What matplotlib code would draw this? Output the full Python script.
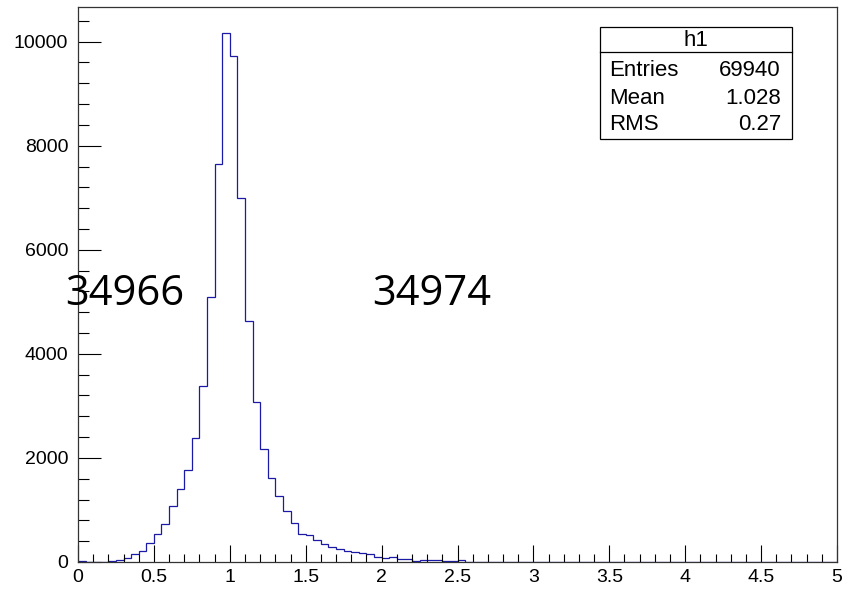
import numpy as np
import matplotlib
matplotlib.use('Agg')
import matplotlib.pyplot as plt
from matplotlib.ticker import MultipleLocator

# histogram h1: 100 bins from 0 to 5, contents
bin_lo = 0.0
bin_hi = 5.0
counts = [
    12, 3, 6, 9, 13, 38, 83, 147, 211, 365,
    538, 730, 1069, 1400, 1766, 2381, 3379, 5100, 7650, 10158,
    9732, 6997, 4639, 3072, 2163, 1606, 1261, 979, 749, 544,
    518, 429, 346, 288, 256, 211, 186, 166, 147, 105,
    85, 100, 51, 51, 13, 32, 32, 32, 13, 13,
    32, 6, 7, 5, 6, 6, 5, 7, 6, 5,
    6, 6, 5, 6, 7, 5, 6, 6, 5, 6,
    6, 0, 5, 5, 0, 0, 0, 4, 0, 4,
    4, 0, 0, 4, 0, 0, 0, 0, 0, 0,
    0, 0, 0, 0, 0, 0, 0, 0, 0, 0,
]
stats_labels = ['Entries', 'Mean', 'RMS']
stats_values = ['69940', '1.028', '0.27']
hist_name = 'h1'
overlay_texts = ['34966', '34974']

W, H = 852, 591
fig = plt.figure(figsize=(W / 100, H / 100), dpi=100)
ax = fig.add_axes([78 / W, 1 - 562 / H, (837 - 78) / W, (562 - 7) / H])

edges = np.linspace(bin_lo, bin_hi, len(counts) + 1)
ax.stairs(counts, edges, color='#1a1aa6', linewidth=0.9, baseline=0)

ax.set_xlim(bin_lo, bin_hi)
ax.set_ylim(0, 1.05 * max(counts))

ax.xaxis.set_major_locator(MultipleLocator(0.5))
ax.xaxis.set_minor_locator(MultipleLocator(0.1))
ax.yaxis.set_major_locator(MultipleLocator(2000))
ax.yaxis.set_minor_locator(MultipleLocator(400))
ax.xaxis.set_major_formatter(plt.FuncFormatter(lambda v, p: f'{v:g}'))

ax.tick_params(axis='x', which='major', direction='in', length=12, width=0.8, pad=5)
ax.tick_params(axis='x', which='minor', direction='in', length=6, width=0.8)
ax.tick_params(axis='y', which='major', direction='in', length=16.5, width=0.8, pad=7)
ax.tick_params(axis='y', which='minor', direction='in', length=8.2, width=0.8)
for lab in ax.get_xticklabels() + ax.get_yticklabels():
    lab.set_fontfamily('Liberation Sans')
    lab.set_fontsize(14)
for sp in ax.spines.values():
    sp.set_linewidth(0.9)
    sp.set_color('#333333')

# stats box
bx0, bx1, by0, by1 = 600, 792, 27, 139
fig.patches.append(plt.Rectangle((bx0 / W, 1 - by1 / H), (bx1 - bx0) / W, (by1 - by0) / H,
                                 transform=fig.transFigure, facecolor='white',
                                 edgecolor='black', linewidth=0.9, zorder=5))
fig.lines.append(plt.Line2D([bx0 / W, bx1 / W], [1 - 52 / H, 1 - 52 / H],
                            transform=fig.transFigure, color='black', linewidth=0.9, zorder=6))
fig.text((bx0 + bx1) / 2 / W, 1 - 40 / H, hist_name, ha='center', va='center',
         fontsize=16, family='Liberation Sans', zorder=7)
for i, (lab, val) in enumerate(zip(stats_labels, stats_values)):
    yy = 1 - (71 + 27 * i) / H
    fig.text(609 / W, yy, lab, ha='left', va='center', fontsize=16,
             family='Liberation Sans', zorder=7)
    fig.text(781 / W, yy, val, ha='right', va='center', fontsize=16,
             family='Liberation Sans', zorder=7)

# big overlay numbers
fig.text(65 / W, 1 - 305 / H, overlay_texts[0], ha='left', va='baseline',
         fontsize=30, family='Open Sans', color='black', zorder=8)
fig.text(372 / W, 1 - 305 / H, overlay_texts[1], ha='left', va='baseline',
         fontsize=30, family='Open Sans', color='black', zorder=8)

fig.savefig('out.png', dpi=100)
